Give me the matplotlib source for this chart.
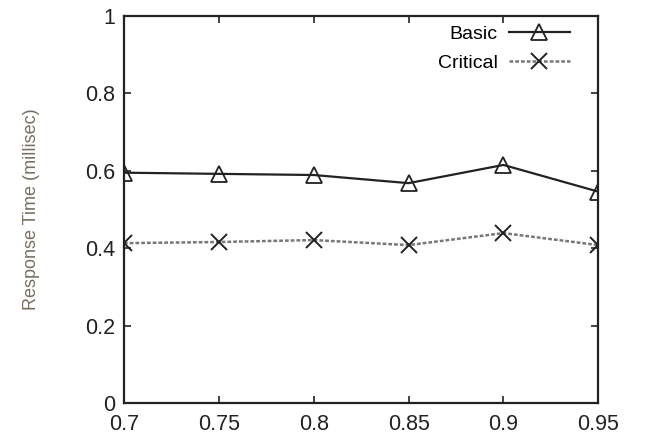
import matplotlib
matplotlib.use("Agg")
import matplotlib.pyplot as plt

# Data
load = [0.7, 0.75, 0.8, 0.85, 0.9, 0.95]
basic = [0.595, 0.592, 0.589, 0.568, 0.615, 0.546]
critical = [0.413, 0.416, 0.421, 0.408, 0.439, 0.408]
x_ticks = [0.7, 0.75, 0.8, 0.85, 0.9, 0.95]
x_labels = ["0.7", "0.75", "0.8", "0.85", "0.9", "0.95"]
y_ticks = [0, 0.2, 0.4, 0.6, 0.8, 1]
y_labels = ["0", "0.2", "0.4", "0.6", "0.8", "1"]

plt.rcParams['font.family'] = ['Liberation Sans', 'DejaVu Sans']

fig = plt.figure(figsize=(6.7, 4.41), dpi=100)
ax = fig.add_axes([0.185, 0.086, 0.708, 0.878])

ax.plot(load, basic, color='#222222', linewidth=1.6, marker='^', markersize=11,
        markerfacecolor='none', markeredgecolor='#222222', markeredgewidth=1.3, label='Basic')
ax.plot(load, critical, color='#777777', linewidth=1.8, linestyle=(0, (1.5, 0.8)), marker='x',
        markersize=12, markeredgecolor='#222222', markeredgewidth=1.4, label='Critical')

ax.set_xlim(0.7, 0.95)
ax.set_ylim(0, 1)
ax.set_xticks(x_ticks)
ax.set_xticklabels(x_labels)
ax.set_yticks(y_ticks)
ax.set_yticklabels(y_labels)
ax.tick_params(direction='in', top=True, right=True, length=5, width=1.2,
               labelsize=15.5, colors='#222222', pad=6)
ax.tick_params(axis='x', pad=8)
for s in ax.spines.values():
    s.set_linewidth(1.6)
    s.set_color('#222222')

ax.set_ylabel('Response Time (millisec)', fontsize=13, color='#777060', labelpad=33)

ax.legend(loc='upper right', frameon=False, fontsize=14, markerfirst=False,
          handlelength=3.1, borderaxespad=0.1, labelspacing=0.55, handletextpad=0.6,
          bbox_to_anchor=(0.96, 1.0))

fig.savefig('out.png', dpi=100)
